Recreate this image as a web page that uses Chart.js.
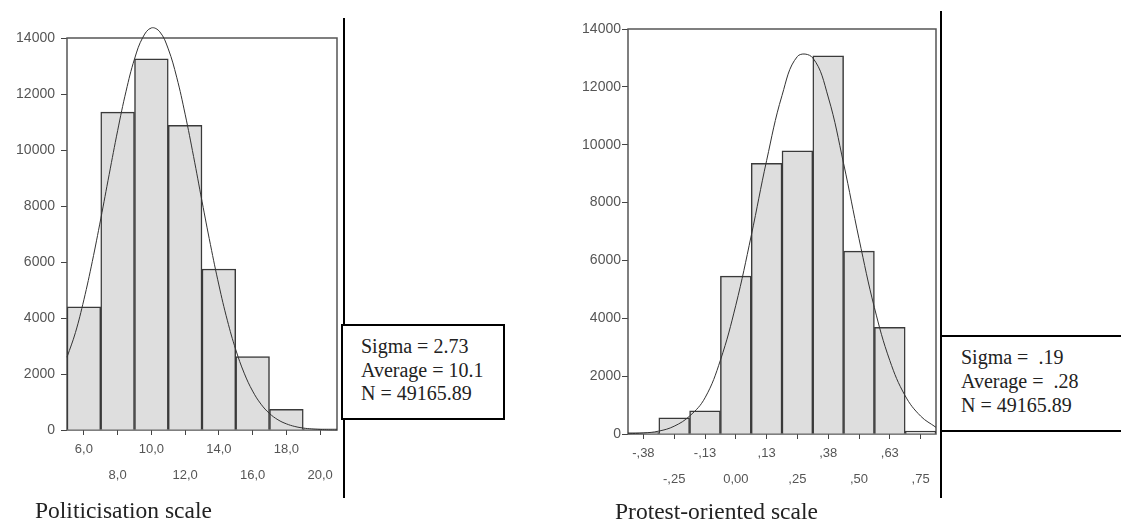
<!DOCTYPE html>
<html>
<head>
<meta charset="utf-8">
<script src="https://cdn.jsdelivr.net/npm/chart.js@4.4.0/dist/chart.umd.min.js"></script>
<style>
  body { margin: 0; background: #fff; }
  #page { position: relative; width: 1121px; height: 522px; overflow: hidden; background: #fff; }
  canvas { position: absolute; top: 0; }
  .vline { position: absolute; width: 2px; background: #000; }
  .box { position: absolute; border: 2px solid #000; background: #fff; box-sizing: border-box; }
  .stats { position: absolute; font-family: "Liberation Serif", "Times New Roman", serif; font-size: 20px; color: #222; white-space: pre; }
  .caption { position: absolute; font-family: "Liberation Serif", "Times New Roman", serif; font-size: 23.5px; line-height: 1; color: #222; white-space: pre; }
</style>
</head>
<body>
<div id="page">
  <canvas id="polChart" width="345" height="500" style="left:0"></canvas>
  <canvas id="proChart" width="380" height="500" style="left:560px"></canvas>

  <div class="vline" style="left:343px; top:18px; height:480px"></div>
  <div class="box" style="left:341px; top:324px; width:164px; height:96px"></div>
  <div class="stats" style="left:361px; top:335px; line-height:23.5px">Sigma = 2.73
Average = 10.1
N = 49165.89</div>

  <div class="vline" style="left:940px; top:11px; height:487px"></div>
  <div class="box" style="left:940px; top:335px; width:200px; height:97px"></div>
  <div class="stats" style="left:961px; top:345px; line-height:24px">Sigma =  .19
Average =  .28
N = 49165.89</div>

  <div class="caption" style="left:35px; top:499px">Politicisation scale</div>
  <div class="caption" style="left:615px; top:500px">Protest-oriented scale</div>
</div>

<script>
// Politicisation scale (bin width 2)
const polCenters = [6, 8, 10, 12, 14, 16, 18, 20];
const polCounts = [4400, 11350, 13260, 10880, 5750, 2620, 740, 40];
const polTickLabels = ['6,0', '8,0', '10,0', '12,0', '14,0', '16,0', '18,0', '20,0'];
const polCurveX = [5, 5.5, 6, 6.5, 7, 7.5, 8, 8.5, 9, 9.5, 10, 10.5, 11, 11.5, 12, 12.5,
  13, 13.5, 14, 14.5, 15, 15.5, 16, 16.5, 17, 17.5, 18, 18.5, 19, 19.5, 20, 20.5, 21];
const polCurveY = [2600, 3480, 4650, 6020, 7540, 9130, 10690, 12100, 13250, 14030, 14360, 14220,
  13610, 12600, 11280, 9770, 8170, 6620, 5180, 3920, 2870, 2030, 1390, 920, 590, 365, 220, 126,
  70, 38, 20, 10, 5];

// Protest-oriented scale (bin width .125)
const proCenters = [-0.375, -0.25, -0.125, 0, 0.125, 0.25, 0.375, 0.5, 0.625, 0.75];
const proCounts = [50, 560, 800, 5460, 9360, 9790, 13070, 6320, 3690, 100];
const proTickLabels = ['-,38', '-,25', '-,13', '0,00', ',13', ',25', ',38', ',50', ',63', ',75'];
const proCurveX = [-0.4375, -0.375, -0.3125, -0.25, -0.1875, -0.125, -0.0625, 0, 0.0625, 0.125,
  0.1875, 0.25, 0.3125, 0.375, 0.4375, 0.5, 0.5625, 0.625, 0.6875, 0.75, 0.8125];
const proCurveY = [10, 34, 100, 270, 620, 1250, 2550, 4450, 6850, 9450, 11700, 13050, 13000,
  11650, 9350, 6750, 4370, 2540, 1320, 620, 230];

const yTicks = [0, 2000, 4000, 6000, 8000, 10000, 12000, 14000];

const tickFont = { family: '"Liberation Sans", Arial, sans-serif', size: 13, lineHeight: 2 };

// box round the plot area, drawn under the bars and curve
const framePlugin = {
  id: 'frame',
  beforeDatasetsDraw(chart) {
    const { ctx, chartArea } = chart;
    ctx.save();
    ctx.strokeStyle = '#555';
    ctx.lineWidth = 1.5;
    ctx.strokeRect(chartArea.left, chartArea.top, chartArea.right - chartArea.left, chartArea.bottom - chartArea.top);
    ctx.restore();
  }
};

function drawHist(id, centers, counts, curveX, curveY, labels, opts) {
  const bars = centers.map((x, i) => ({ x: x, y: counts[i] }));
  const curve = curveX.map((x, i) => ({ x: x, y: curveY[i] }));

  return new Chart(document.getElementById(id), {
    type: 'bar',
    data: {
      datasets: [
        {
          type: 'line',
          data: curve,
          borderColor: '#333',
          borderWidth: 1,
          pointRadius: 0,
          tension: 0.4,
          clip: false,
          order: 0
        },
        {
          data: bars,
          backgroundColor: '#dedede',
          borderColor: '#3a3a3a',
          borderWidth: 1.5,
          barPercentage: 1,
          categoryPercentage: 1,
          grouped: false,
          order: 1
        }
      ]
    },
    options: {
      responsive: false,
      animation: false,
      devicePixelRatio: 1,
      layout: { padding: { top: opts.top, right: opts.right, left: 0, bottom: 0 } },
      plugins: { legend: { display: false }, tooltip: { enabled: false } },
      scales: {
        x: {
          type: 'linear',
          offset: false,
          min: opts.xMin,
          max: opts.xMax,
          border: { display: false },
          grid: { offset: false, drawOnChartArea: false, drawTicks: true, tickLength: 5, tickColor: '#444' },
          afterBuildTicks: scale => { scale.ticks = centers.map(v => ({ value: v })); },
          afterFit: scale => { scale.height = opts.xHeight; },
          ticks: {
            autoSkip: false,
            maxRotation: 0,
            padding: 1,
            color: '#555',
            font: tickFont,
            callback: (v, i) => (i % 2 === 0 ? labels[i] : ['', labels[i]])
          }
        },
        y: {
          min: 0,
          max: 14000,
          border: { display: false },
          grid: { drawOnChartArea: false, drawTicks: true, tickLength: 6, tickColor: '#444' },
          afterBuildTicks: scale => { scale.ticks = yTicks.map(v => ({ value: v })); },
          afterFit: scale => { scale.width = opts.yWidth; },
          ticks: {
            padding: opts.yPad,
            color: '#555',
            font: { family: tickFont.family, size: 14 },
            callback: v => String(v)
          }
        }
      }
    },
    plugins: [framePlugin]
  });
}

drawHist('polChart', polCenters, polCounts, polCurveX, polCurveY, polTickLabels,
  { xMin: 5, xMax: 21, top: 38, right: 8, xHeight: 70, yWidth: 67, yPad: 6 });

drawHist('proChart', proCenters, proCounts, proCurveX, proCurveY, proTickLabels,
  { xMin: -0.4375, xMax: 0.8125, top: 29, right: 4, xHeight: 66, yWidth: 68, yPad: 1 });
</script>
</body>
</html>
